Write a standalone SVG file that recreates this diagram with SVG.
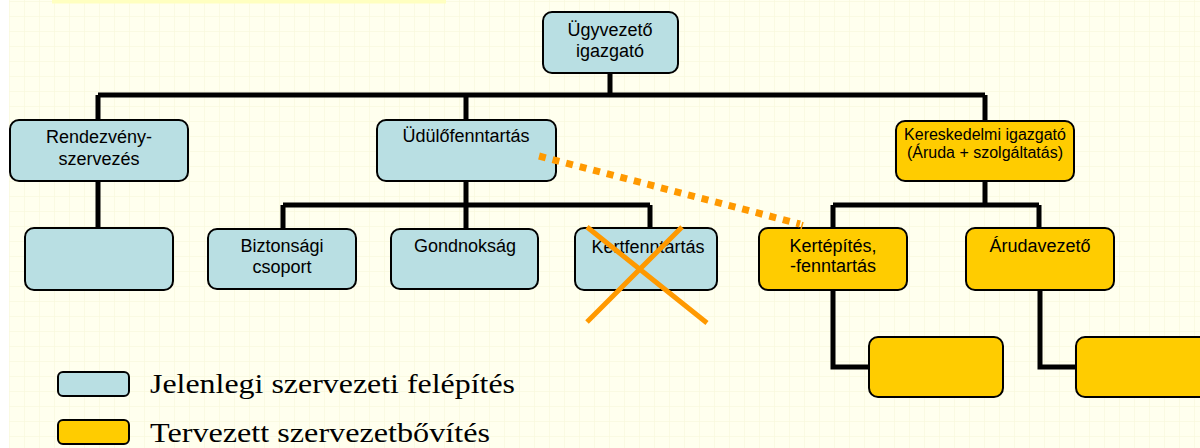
<svg xmlns="http://www.w3.org/2000/svg" width="1200" height="448" viewBox="0 0 1200 448">
  <defs>
    <pattern id="grid" x="9" y="1" width="15" height="15" patternUnits="userSpaceOnUse">
      <path d="M0 0H15M0 0V15" fill="none" stroke="#F6F6D6" stroke-width="1"/>
    </pattern>
    <style>
      .cur { fill: #B9DFE3; stroke: #000; stroke-width: 2; }
      .new { fill: #FFCC00; stroke: #000; stroke-width: 2; }
      .lbl { font-family: "Liberation Sans", Arial, sans-serif; font-size: 18px; fill: #000; text-anchor: middle; }
      .sm { font-size: 16px; }
      .leg { font-family: "Liberation Serif", "Times New Roman", serif; font-size: 28px; fill: #000; }
      .conn { fill: none; stroke: #000; stroke-width: 5; }
    </style>
  </defs>

  <!-- page background -->
  <rect x="0" y="0" width="1200" height="448" fill="#FFFFFF"/>
  <rect x="9" y="0" width="1191" height="448" fill="#FFFFEE"/>
  <rect x="9" y="0" width="1191" height="448" fill="url(#grid)"/>
  <rect x="52" y="0" width="394" height="3.5" fill="#FFFFC0"/>

  <!-- connectors -->
  <g id="connectors" class="conn">
    <path d="M610 73V95M98 95H985M98 95V120M466 95V120M985 95V121"/>
    <path d="M98 181V228"/>
    <path d="M466 181V229M283 205H650M283 205V229M650 205V228"/>
    <path d="M985 181V205M833 205H1039M833 205V228M1039 205V228"/>
    <path d="M833 290V367H869M1040 290V367H1076"/>
  </g>

  <!-- nodes -->
  <g id="ugyvezeto">
    <rect class="cur" x="543" y="12" width="135" height="61" rx="9"/>
    <text class="lbl" x="610" y="36">Ügyvezető</text>
    <text class="lbl" x="610" y="57">igazgató</text>
  </g>
  <g id="rendezveny">
    <rect class="cur" x="10" y="120" width="178" height="61" rx="9"/>
    <text class="lbl" x="99" y="143">Rendezvény-</text>
    <text class="lbl" x="99" y="165">szervezés</text>
  </g>
  <g id="rendezveny-al">
    <rect class="cur" x="25" y="228" width="148" height="62" rx="9"/>
  </g>
  <g id="udulo">
    <rect class="cur" x="377" y="120" width="179" height="61" rx="9"/>
    <text class="lbl" x="466" y="142">Üdülőfenntartás</text>
  </g>
  <g id="biztonsagi">
    <rect class="cur" x="208" y="229" width="148" height="60" rx="9"/>
    <text class="lbl" x="282" y="252">Biztonsági</text>
    <text class="lbl" x="282" y="273">csoport</text>
  </g>
  <g id="gondnoksag">
    <rect class="cur" x="391" y="229" width="147" height="60" rx="9"/>
    <text class="lbl" x="465" y="252">Gondnokság</text>
  </g>
  <g id="kertfenntartas">
    <rect class="cur" x="575" y="228" width="142" height="62" rx="9"/>
    <text class="lbl" x="648" y="253">Kertfenntartás</text>
    <path d="M587 227L707 323M682 227L587 322" stroke="#FF9900" stroke-width="5" fill="none"/>
  </g>
  <g id="kereskedelmi">
    <rect class="new" x="896" y="121" width="178" height="60" rx="9"/>
    <text class="lbl sm" x="985" y="140">Kereskedelmi igazgató</text>
    <text class="lbl sm" x="985" y="158">(Áruda + szolgáltatás)</text>
  </g>
  <g id="kertepites">
    <rect class="new" x="759" y="228" width="148" height="62" rx="9"/>
    <text class="lbl" x="833" y="252">Kertépítés,</text>
    <text class="lbl" x="833" y="272">-fenntartás</text>
  </g>
  <g id="arudavezeto">
    <rect class="new" x="966" y="228" width="148" height="62" rx="9"/>
    <text class="lbl" x="1040" y="252">Árudavezető</text>
  </g>
  <g id="kertepites-al">
    <rect class="new" x="869" y="337" width="134" height="60" rx="9"/>
  </g>
  <g id="arudavezeto-al">
    <rect class="new" x="1076" y="337" width="140" height="60" rx="9"/>
  </g>

  <!-- planned move of garden maintenance -->
  <g id="athelyezes">
    <path d="M539 156L800 224" stroke="#FF9900" stroke-width="7" stroke-dasharray="7 7" fill="none"/>
    <path d="M803 222L801 229" stroke="#FF9900" stroke-width="1.5" fill="none"/>
  </g>

  <!-- legend -->
  <g id="legend">
    <rect class="cur" x="58" y="372" width="71" height="24" rx="5"/>
    <text class="leg" x="150" y="393" textLength="365" lengthAdjust="spacingAndGlyphs">Jelenlegi szervezeti felépítés</text>
    <rect class="new" x="58" y="420" width="71" height="24" rx="5"/>
    <text class="leg" x="150" y="442" textLength="340" lengthAdjust="spacingAndGlyphs">Tervezett szervezetbővítés</text>
  </g>
</svg>
